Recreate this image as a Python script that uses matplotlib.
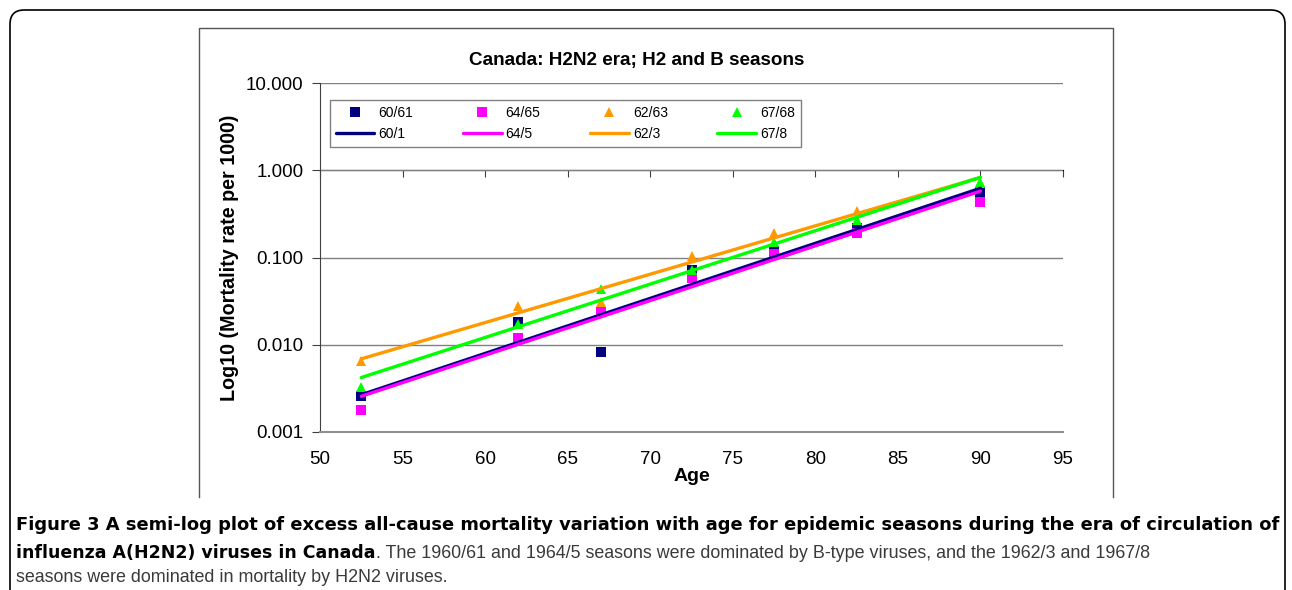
import numpy as np
import matplotlib
matplotlib.use("Agg")
import matplotlib.pyplot as plt
from matplotlib.patches import FancyBboxPatch
from matplotlib.lines import Line2D

plt.rcParams['font.family'] = ['Liberation Sans', 'DejaVu Sans']

# ---- data ----
ages = [52.5, 62, 67, 72.5, 77.5, 82.5, 90]
s6061 = [0.0026, 0.018, 0.0082, 0.071, 0.12, 0.22, 0.56]
s6465 = [0.0018, 0.0118, 0.024, 0.058, 0.11, 0.19, 0.43]
s6263 = [0.0065, 0.028, 0.031, 0.104, 0.19, 0.34, 0.72]
s6768 = [0.0033, 0.0175, 0.043, 0.071, 0.15, 0.27, 0.74]
point_labels = ["60/61", "64/65", "62/63", "67/68"]
line_labels = ["60/1", "64/5", "62/3", "67/8"]
colors = ["#000080", "#FF00FF", "#FF9900", "#00FF00"]
markers = ["s", "s", "^", "^"]
series = [s6061, s6465, s6263, s6768]
title = "Canada: H2N2 era; H2 and B seasons"
xlabel = "Age"
ylabel = "Log10 (Mortality rate per 1000)"
yticks = [0.001, 0.01, 0.1, 1, 10]
xticks = [50, 55, 60, 65, 70, 75, 80, 85, 90, 95]

W, H = 1292, 590
fig = plt.figure(figsize=(W / 100, H / 100), dpi=100)

# outer rounded frame
outer = FancyBboxPatch((10 / W, -0.2), (1285 - 10) / W, (H - 10) / H + 0.2,
                       boxstyle="round,pad=0,rounding_size=0.011",
                       transform=fig.transFigure, fill=False, ec="black", lw=1.2,
                       mutation_aspect=W / H)
fig.patches.append(outer)

fx = lambda p: p / W
fy = lambda p: 1 - p / H
# inner chart frame (left, top, right)
fig.add_artist(Line2D([fx(199), fx(199), fx(1113), fx(1113)],
                      [fy(497), fy(28), fy(28), fy(497)],
                      transform=fig.transFigure, color="#555555", lw=1.0))

ax = fig.add_axes([fx(320), fy(432), fx(1063) - fx(320), fy(83) - fy(432)])
ax.set_yscale("log")
ax.set_xlim(50, 95)
ax.set_ylim(0.001, 10)

xa = np.array(ages)
handles_pts, handles_lines = [], []
for vals, c, m in zip(series, colors, markers):
    h, = ax.plot(ages, vals, linestyle="none", marker=m, color=c, markersize=7.5,
                 markeredgewidth=0, zorder=3)
    handles_pts.append(h)
for vals, c in zip(series, colors):
    k, b = np.polyfit(xa, np.log10(vals), 1)
    hl, = ax.plot(xa, 10 ** (k * xa + b), color=c, lw=2.4, zorder=4,
                  solid_capstyle="round")
    handles_lines.append(hl)

# grid and spines
ax.set_yticks(yticks)
ax.set_yticklabels(["%.3f" % v for v in yticks])
ax.yaxis.set_minor_locator(matplotlib.ticker.NullLocator())
ax.grid(axis="y", which="major", color="#808080", lw=1.0)
ax.set_axisbelow(True)
ax.spines["top"].set_visible(False)
ax.spines["right"].set_visible(False)
ax.spines["left"].set_color("#404040")
ax.spines["bottom"].set_color("#909090")
ax.spines["bottom"].set_linewidth(1.5)
ax.tick_params(axis="y", direction="out", length=6, color="#404040", labelsize=13.5, pad=6)
ax.set_xticks(xticks)
ax.tick_params(axis="x", length=0, labelsize=13.5, pad=14)

# horizontal axis crossing at 1.000
sec = ax.secondary_xaxis(0.75)
sec.set_xticks(xticks)
sec.set_xticklabels([])
sec.tick_params(axis="x", direction="out", length=5, color="#404040",
                labelbottom=False, labeltop=False)
sec.spines["bottom"].set_color("#404040")
sec.xaxis.set_ticks_position("bottom")

ax.set_xlabel(xlabel, fontsize=14, fontweight="bold", labelpad=0)
ax.set_ylabel(ylabel, fontsize=14.2, fontweight="bold", labelpad=5)
fig.text(fx(637), fy(60), title, fontsize=13.6, fontweight="bold", ha="center", va="center")

# legend
hs, ls = [], []
for i in range(4):
    hs += [handles_pts[i], handles_lines[i]]
    ls += [point_labels[i], line_labels[i]]
leg = fig.legend(hs, ls, ncol=4, loc="upper left",
                 bbox_to_anchor=(fx(330), fy(100)), bbox_transform=fig.transFigure,
                 fontsize=10, frameon=True, fancybox=False, edgecolor="#606060",
                 handlelength=2.8, handletextpad=0.3, columnspacing=3.55,
                 labelspacing=0.55, borderaxespad=0, borderpad=0.4)
leg.get_frame().set_linewidth(1.0)


def fit_text(x, y, s, target_w, **kw):
    t = fig.text(x, y, s, **kw)
    fig.canvas.draw()
    w = t.get_window_extent().width
    t.set_fontsize(t.get_fontsize() * target_w / w)
    fig.canvas.draw()
    return t


# caption
bold_font = ['DejaVu Sans']
norm_font = ['Liberation Sans', 'DejaVu Sans']
fit_text(fx(16), fy(525),
         "Figure 3 A semi-log plot of excess all-cause mortality variation with age for epidemic seasons during the era of circulation of",
         1264, fontsize=12.5, fontweight="bold", family=bold_font, va="center", ha="left")
t1 = fit_text(fx(16), fy(553), "influenza A(H2N2) viruses in Canada", 360, fontsize=12.5,
              fontweight="bold", family=bold_font, va="center", ha="left")
bb = t1.get_window_extent()
t2 = fit_text(bb.x1 / W, fy(553),
              ". The 1960/61 and 1964/5 seasons were dominated by B-type viruses, and the 1962/3 and 1967/8",
              1089 - bb.x1, fontsize=12.5, family=norm_font, color="#3a3a3a",
              va="center", ha="left")
t3 = fit_text(fx(16), fy(578), "seasons were dominated in mortality by H2N2 viruses.", 472,
              fontsize=12.5, family=norm_font, color="#3a3a3a", va="center", ha="left")
mean_fs = (t2.get_fontsize() * t3.get_fontsize()) ** 0.5
t2.set_fontsize(mean_fs)
t3.set_fontsize(mean_fs)

fig.savefig("out.png", dpi=100)
